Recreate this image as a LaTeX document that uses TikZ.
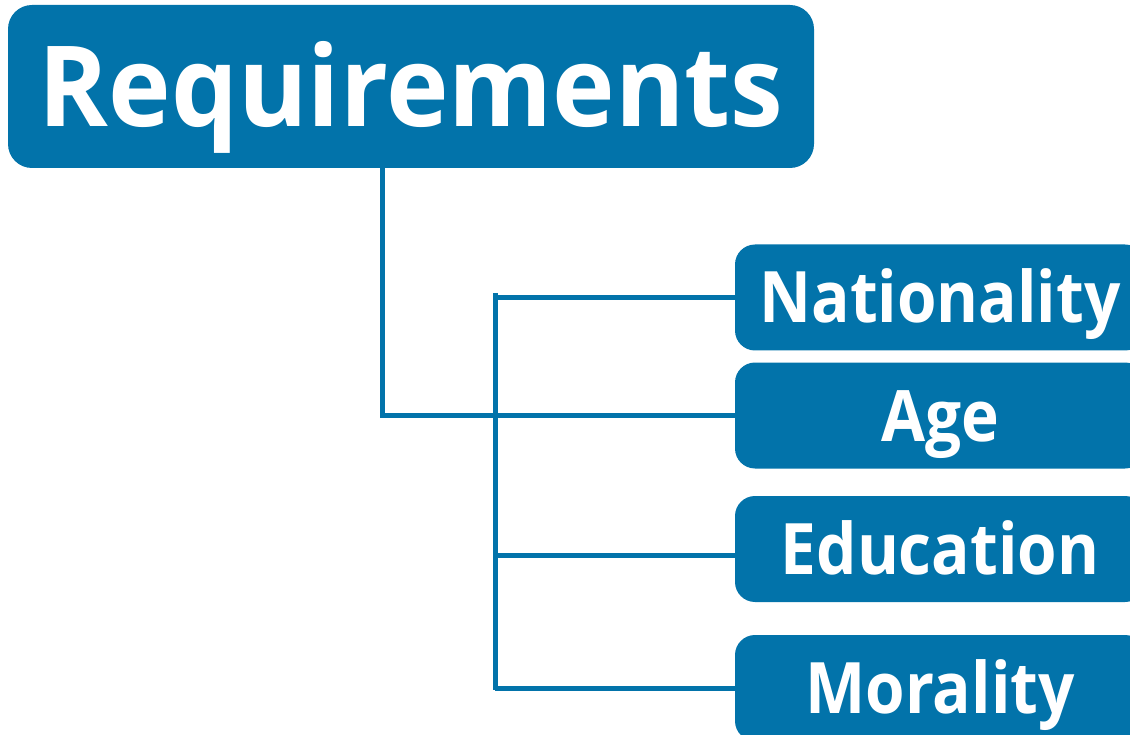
\documentclass[tikz,border=0pt]{standalone}
\usepackage{fontspec}
\newfontfamily\bigfont{Open Sans}[FakeStretch=0.945]
\newfontfamily\smallfont{Open Sans}[FakeStretch=0.90]
\definecolor{boxblue}{RGB}{2,115,170}
\begin{document}
\begin{tikzpicture}[x=1pt,y=-1pt,
  reqbox/.style={fill=boxblue, rounded corners=24pt, inner sep=0pt, text=white,
    minimum width=806pt, minimum height=163pt,
    font=\bigfont\bfseries\fontsize{112}{112}\selectfont, text height=80pt, text depth=0pt},
  itembox/.style={fill=boxblue, rounded corners=20pt, inner sep=0pt, text=white,
    minimum width=410pt, minimum height=106pt,
    font=\smallfont\bfseries\fontsize{71}{71}\selectfont, text height=51pt, text depth=0pt},
  conn/.style={draw=boxblue, line width=5pt}]
\useasboundingbox (0,0) rectangle (1130,735);
\clip (0,0) rectangle (1130,735);
\node[reqbox] (req) at (411,86.5) {Requirements};
\node[itembox] (nat) at (940,297.5) {Nationality};
\node[itembox] (age) at (940,415.5) {Age};
\node[itembox] (edu) at (940,549) {Education};
\node[itembox] (mor) at (940,688) {Morality};
\coordinate (bustop) at (495,293);
\coordinate (busbot) at (495,690);
\draw[conn] ([xshift=-29pt]req.south) |- (age.west);
\draw[conn] (bustop) -- (busbot);
\draw[conn] (bustop |- nat.west) -- (nat.west);
\draw[conn] ([yshift=-6pt]bustop |- edu.west) -- ([yshift=-6pt]edu.west);
\draw[conn] (busbot |- mor.west) -- (mor.west);
\end{tikzpicture}
\end{document}
